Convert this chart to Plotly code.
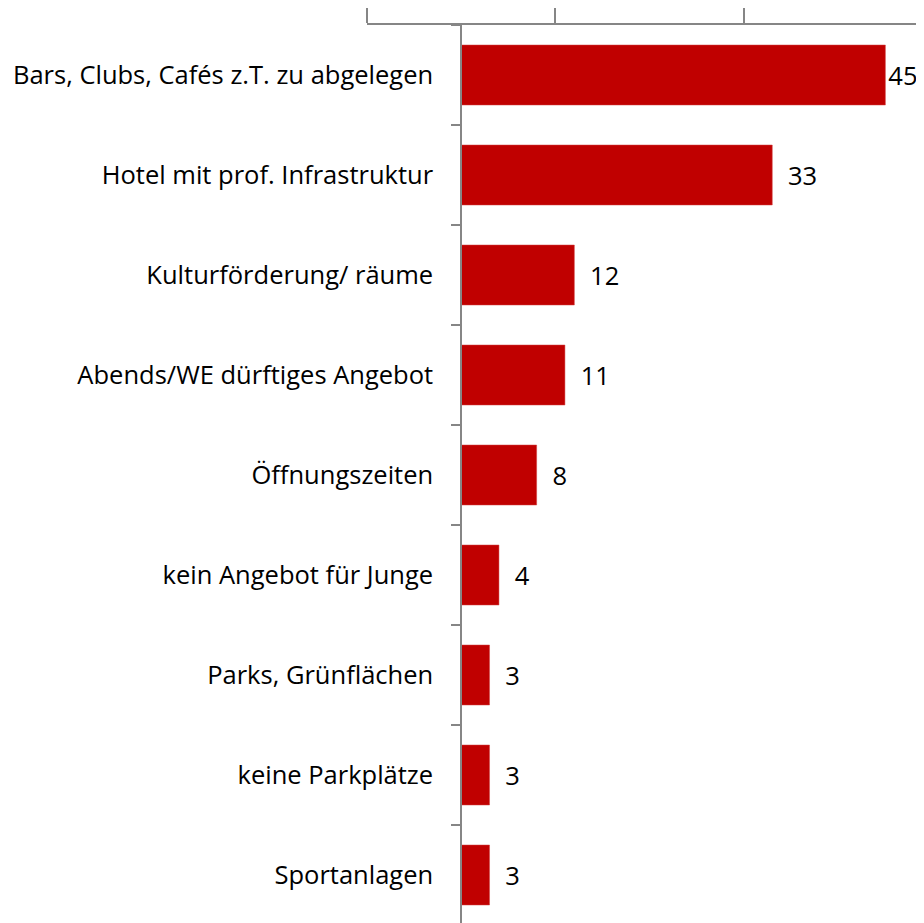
import plotly.graph_objects as go

categories = ["Bars, Clubs, Cafés z.T. zu abgelegen", "Hotel mit prof. Infrastruktur",
              "Kulturförderung/ räume", "Abends/WE dürftiges Angebot", "Öffnungszeiten",
              "kein Angebot für Junge", "Parks, Grünflächen", "keine Parkplätze", "Sportanlagen"]
values = [45, 33, 12, 11, 8, 4, 3, 3, 3]
x_tick_vals = [-10, 10, 30, 50]

font_family = "'Open Sans', sans-serif"
axis_color = "#868686"
max_v = max(values)

fig = go.Figure(go.Bar(
    x=values, y=categories, orientation="h",
    marker=dict(color="#C00000", line=dict(color="#D04040", width=0.5)),
    width=0.6,
    text=[("" if v == max_v else "\u2002") + str(v) for v in values], textposition="outside",
    textfont=dict(family=font_family, size=25.5, color="black"),
    cliponaxis=False,
))

fig.update_layout(
    width=916, height=915,
    margin=dict(l=359, r=0, t=17, b=0),
    paper_bgcolor="white", plot_bgcolor="white",
    showlegend=False,
    bargap=0.4,
    xaxis=dict(side="top", range=[-10, 49.1], tickvals=x_tick_vals, showticklabels=False,
               ticks="outside", ticklen=15, tickcolor=axis_color, tickwidth=1.5,
               showline=True, linecolor=axis_color, linewidth=2,
               showgrid=False, zeroline=False),
    yaxis=dict(type="category", range=[8.48, -0.5], anchor="free", position=10/59.1,
               tickson="boundaries", ticks="outside", ticklen=9, tickcolor=axis_color, tickwidth=1.5,
               showline=True, linecolor=axis_color, linewidth=2, showgrid=False,
               ticklabelstandoff=22,
               tickfont=dict(family=font_family, size=25.5, color="black")),
)

fig.write_html("out.html")
